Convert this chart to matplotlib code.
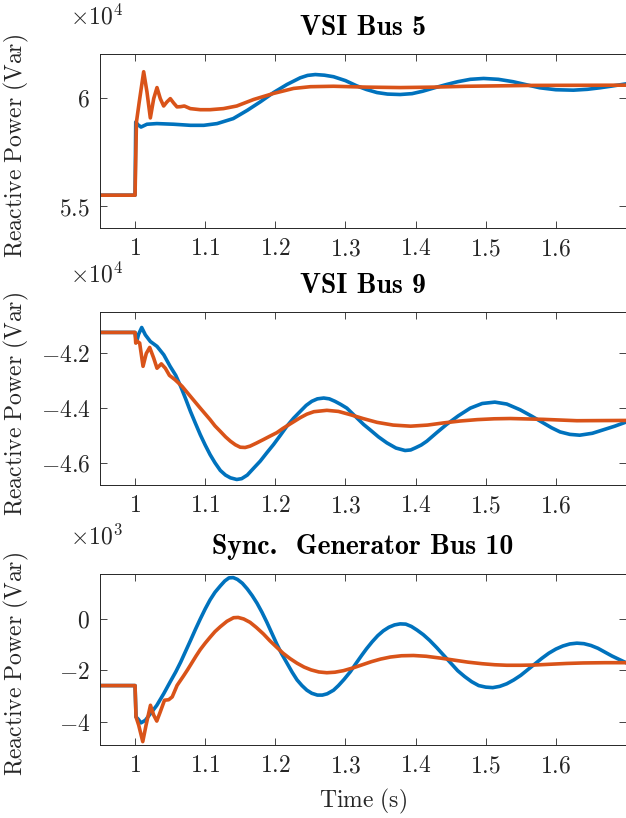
import matplotlib as mpl
mpl.use("Agg")
import matplotlib.pyplot as plt

mpl.rcParams['mathtext.fontset'] = 'cm'
mpl.rcParams['font.family'] = 'serif'

BLUE = '#0072BD'
ORANGE = '#D95319'
GREY = '#262626'

# ---- VSI Bus 5 (x1e4 Var) ----
t_bus5_blue = [0.95, 1.0, 1.001, 1.004, 1.0085, 1.017, 1.031, 1.055, 1.079, 1.098, 1.117,
               1.14, 1.16, 1.1785, 1.1975, 1.2165, 1.2355, 1.246, 1.257, 1.27, 1.283, 1.30,
               1.316, 1.33, 1.345, 1.36, 1.378, 1.395, 1.41, 1.427, 1.444, 1.46, 1.478,
               1.497, 1.518, 1.539, 1.558, 1.577, 1.6, 1.625, 1.645, 1.663, 1.68, 1.7]
q_bus5_blue = [5.55, 5.55, 5.887, 5.875, 5.864, 5.877, 5.880, 5.877, 5.872, 5.872, 5.880,
               5.903, 5.941, 5.98, 6.023, 6.06, 6.091, 6.102, 6.106, 6.103, 6.096, 6.078,
               6.054, 6.037, 6.023, 6.016, 6.014, 6.018, 6.029, 6.045, 6.06, 6.073, 6.084,
               6.088, 6.084, 6.073, 6.059, 6.045, 6.036, 6.034, 6.038, 6.045, 6.053, 6.063]
t_bus5_orange = [0.95, 1.0, 1.002, 1.006, 1.0123, 1.017, 1.0218, 1.0266, 1.0313, 1.036,
                 1.0408, 1.0455, 1.0503, 1.055, 1.0598, 1.065, 1.0703, 1.0788, 1.093, 1.107,
                 1.126, 1.145, 1.169, 1.1975, 1.226, 1.25, 1.283, 1.33, 1.378, 1.425, 1.473,
                 1.568, 1.7]
q_bus5_orange = [5.55, 5.55, 5.887, 5.98, 6.119, 6.026, 5.906, 5.995, 6.046, 5.995,
                 5.961, 5.98, 5.995, 5.975, 5.957, 5.958, 5.961, 5.949, 5.944, 5.944,
                 5.949, 5.961, 5.991, 6.019, 6.042, 6.050, 6.052, 6.048, 6.046, 6.048, 6.052,
                 6.056, 6.057]

# ---- VSI Bus 9 (x1e4 Var) ----
t_bus9_blue = [0.95, 1.0, 1.002, 1.005, 1.0095, 1.0147, 1.0218, 1.0313, 1.041, 1.05, 1.058,
               1.065, 1.072, 1.079, 1.086, 1.093, 1.1, 1.107, 1.114, 1.1216, 1.129, 1.136,
               1.145, 1.152, 1.16, 1.169, 1.1785, 1.188, 1.1975, 1.207, 1.2165, 1.226,
               1.2355, 1.244, 1.252, 1.26, 1.269, 1.277, 1.285, 1.293, 1.302, 1.31, 1.318,
               1.326, 1.335, 1.347, 1.359, 1.372, 1.385, 1.393, 1.40, 1.408, 1.416, 1.43,
               1.444, 1.461, 1.478, 1.495, 1.513, 1.53, 1.549, 1.566, 1.582, 1.594, 1.606,
               1.62, 1.634, 1.652, 1.668, 1.684, 1.7]
q_bus9_blue = [-4.123, -4.123, -4.16, -4.13, -4.105, -4.132, -4.156, -4.174, -4.205, -4.247,
               -4.28, -4.32, -4.365, -4.412, -4.455, -4.497, -4.535, -4.57, -4.60, -4.628,
               -4.645, -4.655, -4.661, -4.658, -4.645, -4.62, -4.594, -4.563, -4.533, -4.50,
               -4.466, -4.437, -4.412, -4.39, -4.375, -4.366, -4.363, -4.366, -4.375, -4.386,
               -4.40, -4.42, -4.44, -4.46, -4.479, -4.505, -4.527, -4.546, -4.555, -4.553,
               -4.545, -4.535, -4.521, -4.49, -4.46, -4.428, -4.40, -4.383, -4.378, -4.385,
               -4.406, -4.43, -4.454, -4.472, -4.487, -4.496, -4.499, -4.492, -4.479, -4.466,
               -4.451]
t_bus9_orange = [0.95, 1.0, 1.001, 1.003, 1.0066, 1.0114, 1.016, 1.0209, 1.0266, 1.0313,
                 1.0375, 1.0432, 1.049, 1.057, 1.067, 1.079, 1.093, 1.107, 1.114, 1.1216,
                 1.129, 1.136, 1.143, 1.15, 1.157, 1.164, 1.173, 1.183, 1.192, 1.202, 1.211,
                 1.221, 1.2355, 1.245, 1.255, 1.2735, 1.29, 1.307, 1.325, 1.345, 1.368,
                 1.393, 1.417, 1.44, 1.464, 1.488, 1.512, 1.535, 1.582, 1.63, 1.7]
q_bus9_orange = [-4.123, -4.123, -4.162, -4.155, -4.162, -4.247, -4.20, -4.178, -4.217,
                 -4.254, -4.238, -4.254, -4.28, -4.296, -4.32, -4.357, -4.40, -4.442,
                 -4.465, -4.485, -4.505, -4.521, -4.534, -4.543, -4.544, -4.539, -4.528,
                 -4.515, -4.503, -4.49, -4.474, -4.458, -4.435, -4.422, -4.413, -4.408,
                 -4.412, -4.424, -4.438, -4.452, -4.462, -4.466, -4.462, -4.454, -4.447,
                 -4.442, -4.439, -4.438, -4.441, -4.446, -4.445]

# ---- Sync. Generator Bus 10 (x1e3 Var) ----
t_bus10_blue = [0.95, 1.0, 1.0014, 1.0043, 1.0085, 1.0147, 1.022, 1.031, 1.041, 1.05, 1.058,
                1.065, 1.072, 1.079, 1.086, 1.093, 1.1, 1.107, 1.114, 1.1216, 1.128, 1.134,
                1.14, 1.146, 1.153, 1.16, 1.167, 1.174, 1.181, 1.188, 1.195, 1.202, 1.209,
                1.2165, 1.224, 1.231, 1.238, 1.245, 1.252, 1.26, 1.267, 1.274, 1.283, 1.29,
                1.298, 1.307, 1.315, 1.323, 1.33, 1.338, 1.346, 1.354, 1.362, 1.37, 1.378,
                1.386, 1.394, 1.402, 1.411, 1.42, 1.43, 1.44, 1.45, 1.46, 1.47, 1.48, 1.49,
                1.5, 1.51, 1.52, 1.53, 1.54, 1.55, 1.56, 1.57, 1.58, 1.59, 1.6, 1.61, 1.62,
                1.63, 1.64, 1.65, 1.66, 1.67, 1.68, 1.69, 1.7]
q_bus10_blue = [-2.6, -2.6, -3.82, -3.9, -4.05, -3.95, -3.69, -3.37, -2.91, -2.46, -2.07,
                -1.69, -1.27, -0.85, -0.42, -0.01, 0.38, 0.735, 1.03, 1.277, 1.47, 1.59,
                1.60, 1.53, 1.38, 1.16, 0.90, 0.60, 0.25, -0.14, -0.56, -0.98, -1.36,
                -1.72, -2.08, -2.38, -2.60, -2.78, -2.90, -2.97, -2.97, -2.92, -2.78, -2.60,
                -2.36, -2.06, -1.74, -1.43, -1.17, -0.90, -0.66, -0.47, -0.33, -0.24, -0.20,
                -0.21, -0.30, -0.44, -0.62, -0.84, -1.12, -1.42, -1.72, -2.02, -2.25, -2.45,
                -2.60, -2.66, -2.68, -2.63, -2.53, -2.38, -2.20, -1.98, -1.76, -1.54, -1.34,
                -1.18, -1.06, -0.98, -0.95, -0.97, -1.04, -1.15, -1.30, -1.45, -1.58, -1.71]
t_bus10_orange = [0.95, 1.0, 1.0014, 1.0052, 1.011, 1.0157, 1.022, 1.0266, 1.031, 1.036,
                  1.042, 1.048, 1.053, 1.06, 1.069, 1.075, 1.081, 1.087, 1.093, 1.1, 1.107,
                  1.114, 1.1216, 1.131, 1.1405, 1.147, 1.155, 1.164, 1.173, 1.183, 1.192,
                  1.202, 1.211, 1.221, 1.231, 1.241, 1.251, 1.262, 1.2735, 1.285, 1.297,
                  1.31, 1.323, 1.337, 1.35, 1.364, 1.38, 1.397, 1.415, 1.435, 1.455, 1.475,
                  1.495, 1.513, 1.53, 1.55, 1.57, 1.592, 1.615, 1.639, 1.67, 1.7]
q_bus10_orange = [-2.6, -2.6, -3.82, -4.14, -4.78, -4.14, -3.366, -3.75, -3.98, -3.62,
                  -3.17, -3.15, -3.04, -2.59, -2.23, -1.98, -1.715, -1.45, -1.2, -0.95,
                  -0.72, -0.50, -0.31, -0.10, 0.04, 0.05, -0.01, -0.14, -0.34, -0.59, -0.85,
                  -1.11, -1.34, -1.55, -1.73, -1.88, -1.99, -2.07, -2.10, -2.08, -2.02,
                  -1.92, -1.80, -1.67, -1.57, -1.49, -1.44, -1.43, -1.46, -1.53, -1.61,
                  -1.69, -1.75, -1.79, -1.81, -1.81, -1.80, -1.77, -1.74, -1.72, -1.71, -1.71]

x_ticks = [1.0, 1.1, 1.2, 1.3, 1.4, 1.5, 1.6]
x_tick_labels = ['1', '1.1', '1.2', '1.3', '1.4', '1.5', '1.6']

panels = [
    dict(title='VSI Bus 5', exp='4',
         blue=(t_bus5_blue, q_bus5_blue), orange=(t_bus5_orange, q_bus5_orange),
         ylim=(5.4, 6.2), yticks=[5.5, 6.0], yticklabels=['5.5', '6']),
    dict(title='VSI Bus 9', exp='4',
         blue=(t_bus9_blue, q_bus9_blue), orange=(t_bus9_orange, q_bus9_orange),
         ylim=(-4.68, -4.05), yticks=[-4.6, -4.4, -4.2], yticklabels=['-4.6', '-4.4', '-4.2']),
    dict(title='Sync.  Generator Bus 10', exp='3',
         blue=(t_bus10_blue, q_bus10_blue), orange=(t_bus10_orange, q_bus10_orange),
         ylim=(-4.9, 1.75), yticks=[-4, -2, 0], yticklabels=['-4', '-2', '0']),
]

FS = 17

fig = plt.figure(figsize=(6.26, 8.18), dpi=100)
boxes = [
    [0.1597, 0.7216, 0.8403, 0.2122],
    [0.1597, 0.4075, 0.8403, 0.2105],
    [0.1597, 0.0896, 0.8403, 0.2090],
]

for i, p in enumerate(panels):
    ax = fig.add_axes(boxes[i])
    ax.plot(*p['blue'], color=BLUE, lw=2.6, solid_joinstyle='round')
    ax.plot(*p['orange'], color=ORANGE, lw=2.6, solid_joinstyle='round')
    ax.set_xlim(0.95, 1.7)
    ax.set_ylim(*p['ylim'])
    ax.set_xticks(x_ticks)
    ax.set_xticklabels(['$%s$' % s for s in x_tick_labels])
    ax.set_yticks(p['yticks'])
    ax.set_yticklabels(['$%s$' % s for s in p['yticklabels']])
    ax.tick_params(direction='in', length=5, width=0.6, top=True, right=True,
                   color=GREY, labelcolor=GREY, labelsize=FS, pad=7)
    for s in ax.spines.values():
        s.set_color(GREY)
        s.set_linewidth(0.7)
    ax.set_title(p['title'], fontsize=20, pad=14, color='black', family='cmb10')
    ax.set_ylabel(r'$\mathrm{Reactive\ Power\ (Var)}$', fontsize=FS, color=GREY)
    ax.yaxis.set_label_coords(-0.131, 0.47)
    ax.text(-0.057, 1.173, r'$\times10^{%s}$' % p['exp'], transform=ax.transAxes,
            fontsize=FS, color=GREY, ha='left', va='baseline')
    if i == 2:
        ax.set_xlabel(r'$\mathrm{Time\ (s)}$', fontsize=FS, color=GREY)
        ax.xaxis.set_label_coords(0.5, -0.245)

fig.savefig('out.png', dpi=100)
